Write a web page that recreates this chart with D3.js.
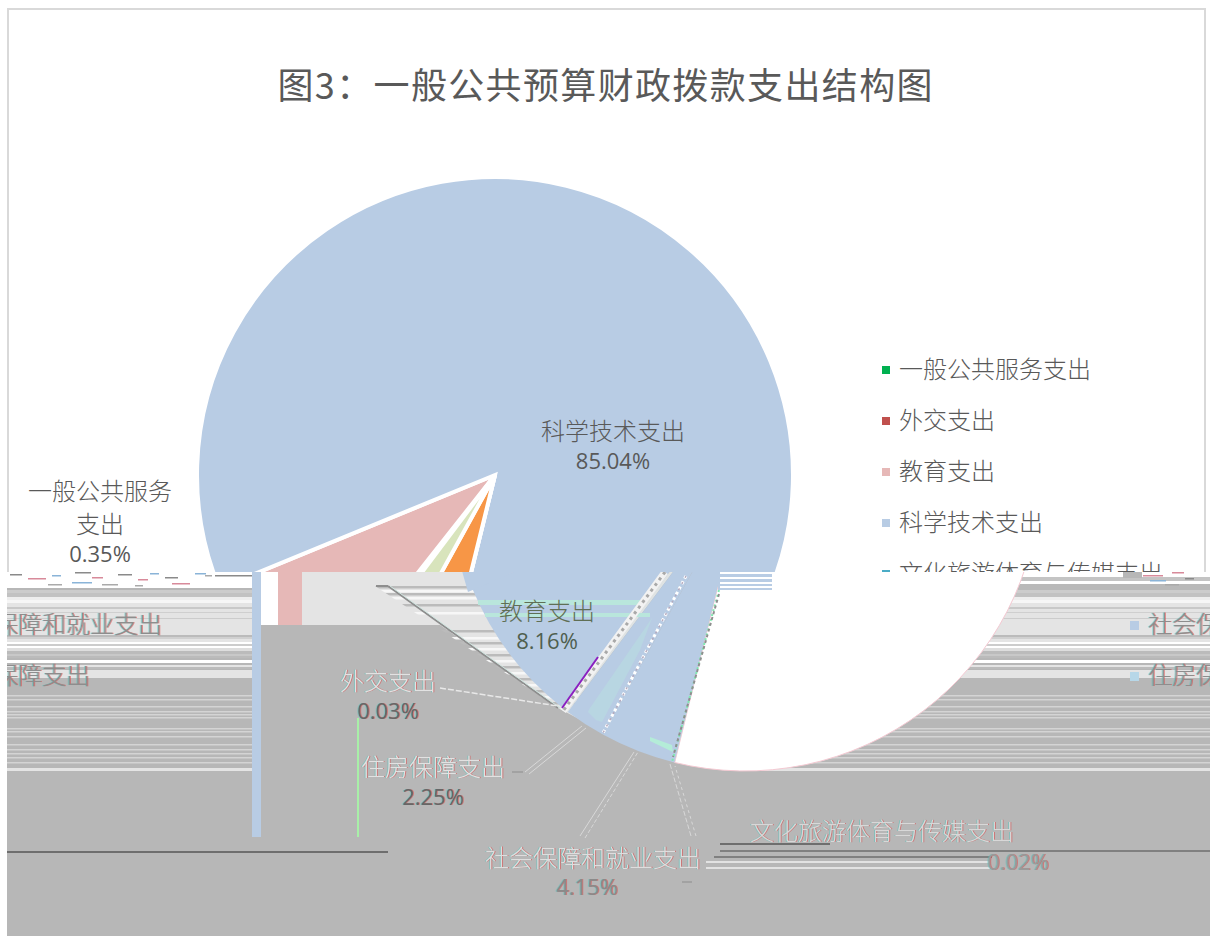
<!DOCTYPE html>
<html>
<head>
<meta charset="utf-8">
<script src="https://d3js.org/d3.v7.min.js"></script>
<style>
body { margin: 0; background: #fff; }
text { font-family: "Noto Sans CJK SC", "Open Sans", sans-serif; }
.pct { font-family: "Open Sans", sans-serif; }
.ghost { filter: drop-shadow(1px 0 0 rgba(220,70,70,.55)) drop-shadow(-1px 0 0 rgba(70,200,190,.45)); }
</style>
</head>
<body>
<svg id="svg" width="1210" height="936"></svg>
<script>
// values
const categories = ["一般公共服务支出", "外交支出", "教育支出", "科学技术支出", "文化旅游体育与传媒支出", "社会保障和就业支出", "住房保障支出"];
const shares = [0.35, 0.03, 8.16, 85.04, 0.02, 4.15, 2.25];
const sliceColors = ["#00b050", "#c0504d", "#e6b8b7", "#b8cce4", "#4bacc6", "#f79646", "#d8e4bc"];
// the broken lower half of the picture paints the same slices in other colours
const brokenColors = ["#dfe3e3", "#dfe3e3", "#b8cce4", "#ffffff", "#dfe3e3", "#b8cce4", "#b8cce4"];
const legendColors = ["#00b050", "#c0504d", "#e6b8b7", "#b8cce4", "#4bacc6", "#b8cce4", "#b7d7e8"];

const W = 1210, H = 936, cut = 572;
const svg = d3.select("svg#svg");
const rad = d => d * Math.PI / 180;

const pie = d3.pie().sort(null).startAngle(rad(216.9)).endAngle(rad(216.9 + 360));
const arc = d3.arc().innerRadius(0).outerRadius(298);
const arcShifted = d3.arc().innerRadius(0).outerRadius(295);
const slices = pie(shares);

let defs = svg.append("defs");
defs.append("clipPath").attr("id", "top").append("rect").attr("width", W).attr("height", cut);
defs.append("clipPath").attr("id", "bottom").append("rect").attr("x", 7).attr("y", cut).attr("width", W).attr("height", H - cut);
let sideClip = defs.append("clipPath").attr("id", "sides");
sideClip.append("rect").attr("x", 7).attr("y", cut).attr("width", 245).attr("height", H - cut);
sideClip.append("rect").attr("x", 750).attr("y", cut).attr("width", 460).attr("height", H - cut);
defs.append("clipPath").attr("id", "diag").append("polygon").attr("points", "375,586 470,586 600,730 558,708");

// ---- intact upper part
let up = svg.append("g").attr("clip-path", "url(#top)");
up.append("rect").attr("x", 8).attr("y", 9).attr("width", 1197).attr("height", 700)
    .attr("fill", "#fff").attr("stroke", "#d9d9d9").attr("stroke-width", 2);
up.append("g").attr("transform", "translate(495,475)").selectAll("path").data(slices).enter()
    .append("path").attr("d", arc).attr("fill", (d, i) => sliceColors[i])
    .attr("stroke", "#fff").attr("stroke-width", 4);

// ---- broken lower part
let low = svg.append("g").attr("clip-path", "url(#bottom)");
low.append("rect").attr("x", 7).attr("y", cut).attr("width", W).attr("height", H - cut).attr("fill", "#b7b7b7");

// scan line rows that survive left and right of the shifted pie
const bandRows = [
    [572, 588, "#ffffff"], [588, 590, "#b7b7b7"], [590, 593, "#cccccc"], [593, 597, "#c2c2c2"], [597, 600, "#eeeeee"],
    [600, 603, "#f6f6f6"], [603, 607, "#e4e4e4"], [607, 609, "#c8c8c8"], [609, 612, "#e4e4e4"], [612, 613, "#cfcfcf"],
    [613, 618, "#e4e4e4"], [618, 619, "#cccccc"], [619, 635, "#e4e4e4"], [635, 637, "#bbbbbb"], [637, 639, "#d0d0d0"],
    [639, 642, "#e4e4e4"], [642, 644, "#ffffff"], [644, 646, "#cccccc"], [646, 648, "#ffffff"], [648, 651, "#dddddd"],
    [651, 654, "#bbbbbb"], [654, 656, "#c8c8c8"], [656, 658, "#bbbbbb"], [660, 663, "#ffffff"], [665, 667, "#e4e4e4"],
    [667, 669, "#bbbbbb"], [670, 678, "#e4e4e4"]
];
const thinRows = [695, 699, 706, 711, 714, 717, 728, 731, 736, 744, 749, 753, 757, 762];
let bands = low.append("g").attr("clip-path", "url(#sides)");
bands.selectAll("rect.row").data(bandRows).enter().append("rect").attr("class", "row")
    .attr("x", 0).attr("width", W).attr("y", d => d[0]).attr("height", d => d[1] - d[0]).attr("fill", d => d[2]);
bands.selectAll("rect.thin").data(thinRows).enter().append("rect").attr("class", "thin")
    .attr("x", 0).attr("width", W).attr("y", d => d).attr("height", 1.5).attr("fill", "#d4d4d4");
bands.append("rect").attr("x", 0).attr("width", W).attr("y", 768).attr("height", 3).attr("fill", "#e4e4e4");
low.append("rect").attr("x", 1020).attr("y", 577).attr("width", 190).attr("height", 4).attr("fill", "#c4c4c4");
low.append("rect").attr("x", 1012).attr("y", 584).attr("width", 198).attr("height", 6).attr("fill", "#b9b9b9");

// leftover blocks next to the left band
low.append("rect").attr("x", 252).attr("y", cut).attr("width", 9).attr("height", 265).attr("fill", "#b8cce4");
low.append("rect").attr("x", 261).attr("y", cut).attr("width", 17).attr("height", 53).attr("fill", "#fff");
low.append("rect").attr("x", 278).attr("y", cut).attr("width", 24).attr("height", 53).attr("fill", "#e6b8b7");
low.append("rect").attr("x", 302).attr("y", 575).attr("width", 9).attr("height", 4).attr("fill", "#e6b8b7");
low.append("polygon").attr("points", "302,571 480,571 600,730 558,708 440,625 302,625").attr("fill", "#e4e4e4");
const diagRows = [586, 590, 593, 597, 604, 612, 630, 637, 642, 648, 654, 660, 666, 672, 678, 684, 690, 696, 702];
low.append("g").attr("clip-path", "url(#diag)").selectAll("rect").data(diagRows).enter().append("rect")
    .attr("x", 375).attr("width", 230).attr("y", d => d).attr("height", 2.5)
    .attr("fill", (d, i) => i % 2 ? "#f7f7f7" : "#bbbbbb");

// same pie, slid to the right by the broken scan lines
let shifted = low.append("g").attr("transform", "translate(745,476)");
shifted.selectAll("path").data(slices).enter().append("path").attr("d", arcShifted)
    .attr("fill", (d, i) => brokenColors[i]).attr("stroke", (d, i) => i == 3 ? "#f4c9d2" : "none").attr("stroke-width", 1);
// corner of the science slice that stays blue
low.append("polygon").attr("points", "462,571 516,571 468,592").attr("fill", "#b8cce4");

// mint streaks behind the education label, and the pale tint in the housing slice
low.append("rect").attr("x", 478).attr("y", 600).attr("width", 162).attr("height", 5).attr("fill", "#b9e6dc");
low.append("rect").attr("x", 485).attr("y", 613).attr("width", 165).attr("height", 4).attr("fill", "#b9e6dc");
low.append("polygon").attr("points", "652,618 590,708 588,712 596,720 602,722 640,650").attr("fill", "#b8d6e2");
low.append("polygon").attr("points", "650,737 672,745 673,752 650,741").attr("fill", "#b4ecd8");

// seams between slices
const seams = [
    [[665, 572], [563, 711], "#f2f2f2", 7, "none"],
    [[665, 572], [563, 711], "#a9a9a9", 3, "3 4"],
    [[686, 576], [603, 733], "#ffffff", 3, "3 3"],
    [[686, 576], [603, 733], "#b4a9bd", 1.5, "2 5"],
    [[719, 590], [672, 762], "#7feab0", 2, "2 3"],
    [[719, 594], [673, 757], "#8f8f8f", 2, "3 3"],
    [[598, 657], [562, 708], "#8a1fc0", 2, "none"]
];
low.selectAll("line.seam").data(seams).enter().append("line").attr("class", "seam")
    .attr("x1", d => d[0][0]).attr("y1", d => d[0][1]).attr("x2", d => d[1][0]).attr("y2", d => d[1][1])
    .attr("stroke", d => d[2]).attr("stroke-width", d => d[3]).attr("stroke-dasharray", d => d[4]);

// pie stripes that stayed in place
low.append("rect").attr("x", 718).attr("y", cut).attr("width", 54).attr("height", 18).attr("fill", "#b8cce4");
low.selectAll("rect.wl").data([572, 577, 582, 586]).enter().append("rect").attr("class", "wl")
    .attr("x", 720).attr("width", 52).attr("y", d => d).attr("height", 2).attr("fill", "#fff");

// leader lines
const leaders = [
    [[376, 586], [388, 586], "#8e8e8e", 2, "none"],
    [[388, 586], [558, 708], "#8e8e8e", 2, "none"],
    [[390, 586], [560, 708], "#cfe4df", 1, "none"],
    [[440, 688], [558, 706], "#e8e8e8", 1.5, "6 2"],
    [[525, 772], [582, 726], "#d8d8d8", 1, "none"],
    [[529, 774], [586, 728], "#d8d8d8", 1, "none"],
    [[580, 836], [634, 752], "#d8d8d8", 1, "none"],
    [[585, 838], [638, 752], "#d8d8d8", 1, "4 2"],
    [[691, 836], [670, 764], "#d8d8d8", 1, "5 2"],
    [[696, 836], [675, 766], "#d8d8d8", 1, "3 3"],
    [[358, 718], [358, 837], "#a8f0a8", 2, "none"],
    [[7, 852], [388, 852], "#6e6e6e", 2, "none"],
    [[720, 844], [830, 844], "#6e6e6e", 2, "none"],
    [[720, 851], [1210, 851], "#6e6e6e", 1.6, "none"],
    [[714, 857], [992, 857], "#808080", 2, "none"],
    [[706, 862], [990, 862], "#f0f0f0", 1.5, "none"],
    [[706, 868], [990, 868], "#f0f0f0", 1.5, "none"],
    [[512, 772], [523, 772], "#a2a2a2", 2, "none"],
    [[682, 882], [692, 882], "#a2a2a2", 2, "none"]
];
low.selectAll("line.lead").data(leaders).enter().append("line").attr("class", "lead")
    .attr("x1", d => d[0][0]).attr("y1", d => d[0][1]).attr("x2", d => d[1][0]).attr("y2", d => d[1][1])
    .attr("stroke", d => d[2]).attr("stroke-width", d => d[3]).attr("stroke-dasharray", d => d[4]);

// speckle row right under the cut
const speckle = [[10, 574, 12], [28, 578, 18], [52, 575, 9], [48, 584, 14], [75, 572, 16], [92, 577, 11], [72, 582, 20], [102, 584, 16],
    [118, 574, 14], [138, 579, 10], [150, 573, 9], [135, 585, 8], [165, 577, 13], [172, 583, 18], [195, 573, 11], [205, 575, 7],
    [215, 575, 37], [1143, 575, 20], [1150, 580, 16], [1165, 584, 14], [1185, 578, 9], [1172, 572, 12]];
low.selectAll("rect.sp").data(speckle).enter().append("rect").attr("class", "sp")
    .attr("x", d => d[0]).attr("y", d => d[1]).attr("width", d => d[2]).attr("height", 1.5)
    .attr("fill", (d, i) => ["#8a8a8a", "#d88a9a", "#8ab4d8", "#aaaaaa"][i % 4]);
low.append("rect").attr("x", 1123).attr("y", 570).attr("width", 19).attr("height", 8).attr("fill", "#b7b7b7");

// ---- text
function put(g, str, x, y, size, fill, anchor, cls) {
    return g.append("text").attr("x", x).attr("y", y).attr("font-size", size).attr("fill", fill)
        .attr("text-anchor", anchor || "middle").attr("dominant-baseline", "middle").attr("class", cls || null).text(str);
}

put(svg, "图3：一般公共预算财政拨款支出结构图", 605, 89, 36, "#595959").attr("textLength", 655).attr("font-weight", 400);

// legend, upper rows stay put
let legendTop = svg.append("g").attr("clip-path", "url(#top)");
const legendY = d3.scalePoint().domain(categories).range([370, 676]);
categories.forEach((c, i) => {
    let y = legendY(c);
    if (i < 5) {
        legendTop.append("rect").attr("x", 882).attr("y", y - 4).attr("width", 8).attr("height", 8).attr("fill", legendColors[i]);
        put(legendTop, c, 899, y + 1, 24, "#595959", "start").attr("font-weight", 300);
    } else {
        // lower rows are shifted and wrap round the image edge
        low.append("rect").attr("x", 1130).attr("y", y - 4).attr("width", 9).attr("height", 9).attr("fill", legendColors[i]);
        put(low, c, 1148, y + 1, 24, "#8d8d8d", "start", "ghost").attr("font-weight", 300);
        put(low, c, -54, y + 1, 24, "#8d8d8d", "start", "ghost").attr("font-weight", 300);
    }
});

// data labels
const pctText = shares.map(v => v.toFixed(2) + "%");
put(svg, "一般公共服务", 100, 493, 24, "#595959").attr("font-weight", 300);
put(svg, "支出", 100, 526, 24, "#595959").attr("font-weight", 300);
put(svg, pctText[0], 100, 556, 22, "#595959", "middle", "pct");
put(svg, categories[3], 613, 433, 24, "#595959").attr("font-weight", 300);
put(svg, pctText[3], 613, 463, 22, "#595959", "middle", "pct");
put(low, categories[2], 547, 613, 24, "#5f6f55").attr("font-weight", 300);
put(low, pctText[2], 547, 643, 22, "#4f5f4f", "middle", "pct");
put(low, categories[1], 388, 683, 24, "#e2e2e2", "middle", "ghost").attr("font-weight", 300);
put(low, pctText[1], 388, 713, 22, "#666666", "middle", "pct ghost");
put(low, categories[6], 433, 769, 24, "#e2e2e2", "middle", "ghost").attr("font-weight", 300);
put(low, pctText[6], 433, 799, 22, "#666666", "middle", "pct ghost");
put(low, categories[5], 593, 860, 24, "#dedede", "middle", "ghost").attr("font-weight", 300);
put(low, pctText[5], 587, 889, 22, "#8a8a8a", "middle", "pct ghost");
put(low, categories[4], 882, 833, 24, "#d8d8d8", "middle", "ghost").attr("font-weight", 300);
put(low, pctText[4], 1018, 864, 22, "#9a9a9a", "middle", "pct ghost");
</script>
</body>
</html>
